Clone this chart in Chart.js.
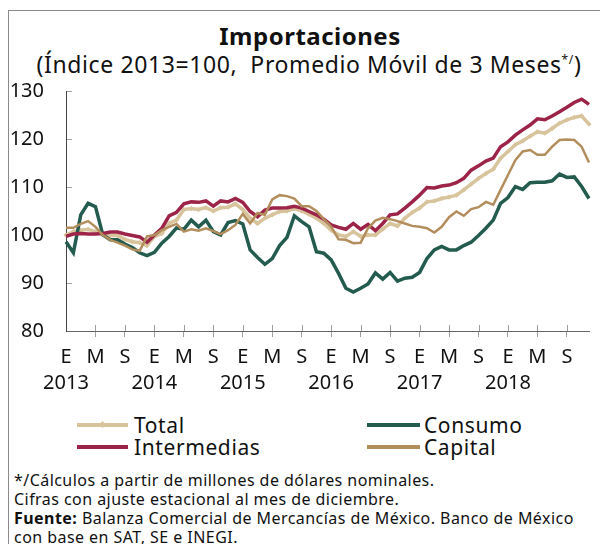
<!DOCTYPE html>
<html lang="es">
<head>
<meta charset="UTF-8">
<title>Importaciones</title>
<script src="https://cdn.jsdelivr.net/npm/chart.js"></script>
<style>
  body {
    margin: 0;
    width: 600px;
    height: 544px;
    background: #fff;
    font-family: "Noto Sans", sans-serif;
    color: #111;
    overflow: hidden;
    position: relative;
  }
  #frame {
    position: absolute;
    left: 8px;
    top: 10px;
    width: 600px;
    height: 540px;
    border-left: 1px solid #8a8a8a;
    border-top: 1px solid #8a8a8a;
  }
  #title {
    position: absolute;
    left: 0; width: 620px; top: 21px;
    text-align: center;
    font-weight: bold;
    font-size: 24px;
    letter-spacing: 0.5px;
    line-height: 30px;
  }
  #subtitle {
    position: absolute;
    left: 0; width: 618px; top: 49px;
    text-align: center;
    font-size: 23px;
    letter-spacing: 0.6px;
    line-height: 30px;
    white-space: nowrap;
  }
  #subtitle sup { font-size: 12px; vertical-align: 9px; line-height: 0; }
  #wrap {
    position: absolute;
    left: 0; top: 0;
    width: 600px; height: 400px;
  }
  .leg {
    position: absolute;
    font-size: 21px;
    letter-spacing: 0.6px;
    line-height: 24px;
    white-space: nowrap;
  }
  .swatch {
    position: absolute;
    height: 4px;
  }
  .diamond {
    position: absolute;
    width: 5px; height: 5px;
    transform: rotate(45deg);
  }
  #notes {
    position: absolute;
    left: 14px; top: 471px;
    font-size: 16px;
    letter-spacing: 0.45px;
    line-height: 19px;
    white-space: nowrap;
  }
</style>
</head>
<body>
<div id="frame"></div>
<div id="title">Importaciones</div>
<div id="subtitle">(Índice 2013=100,&nbsp; Promedio Móvil de 3 Meses<sup>*/</sup>)</div>
<div id="wrap"><canvas id="chart"></canvas></div>

<div class="swatch" style="left:77px;top:423px;width:51px;background:#d8c49c"></div>
<div class="diamond" style="left:100px;top:422px;background:#d8c49c"></div>
<div class="leg" style="left:134px;top:413px">Total</div>
<div class="swatch" style="left:77px;top:445px;width:51px;background:#9d2449"></div>
<div class="leg" style="left:134px;top:435px">Intermedias</div>
<div class="swatch" style="left:367px;top:423px;width:53px;background:#235b4e"></div>
<div class="leg" style="left:424px;top:413px">Consumo</div>
<div class="swatch" style="left:367px;top:445px;width:53px;background:#b38e5d"></div>
<div class="leg" style="left:424px;top:435px">Capital</div>

<div id="notes">
  */Cálculos a partir de millones de dólares nominales.<br>
  Cifras con ajuste estacional al mes de diciembre.<br>
  <b>Fuente:</b> Balanza Comercial de Mercancías de México. Banco de México<br>
  con base en SAT, SE e INEGI.
</div>

<script>
  // monthly, Jan 2013 - Dec 2018
  const years = ['2013', '2014', '2015', '2016', '2017', '2018'];
  const monthLetters = ['E', 'F', 'M', 'A', 'M', 'J', 'J', 'A', 'S', 'O', 'N', 'D'];

  const total = [
    100.0, 100.7, 101.0, 101.2, 100.7, 100.2, 99.9, 99.9, 99.1, 98.6, 98.4, 97.8,
    99.7, 100.3, 102.4, 103.1, 105.3, 105.5, 105.3, 105.7, 105.0, 105.7, 105.8, 106.5,
    105.3, 103.5, 102.4, 103.5, 104.2, 104.9, 105.0, 105.5, 105.0, 104.3, 103.5, 102.4,
    101.0, 100.0, 99.7, 100.7, 99.7, 100.0, 100.0, 101.2, 102.4, 101.9, 103.5, 104.7,
    105.6, 106.9, 107.1, 107.6, 107.9, 108.3, 109.4, 110.6, 111.8, 112.8, 113.7, 116.0,
    117.4, 118.8, 119.6, 120.6, 121.5, 121.2, 122.2, 123.3, 124.0, 124.5, 124.8, 123.1
  ];
  const consumo = [
    98.6, 96.3, 104.2, 106.6, 105.9, 100.0, 99.0, 99.0, 98.1, 97.4, 96.3, 95.7,
    96.4, 98.3, 99.7, 101.5, 101.2, 103.1, 101.7, 103.1, 100.7, 100.0, 102.6, 103.0,
    102.3, 96.9, 95.3, 93.9, 95.1, 97.8, 99.5, 104.0, 102.8, 101.7, 96.5, 96.2,
    94.8, 92.0, 88.9, 88.1, 88.9, 89.8, 92.1, 90.8, 92.2, 90.4, 91.0, 91.2,
    92.2, 95.1, 96.9, 97.6, 96.9, 96.9, 97.8, 98.5, 99.9, 101.4, 103.1, 106.6,
    107.8, 110.1, 109.5, 110.9, 111.0, 111.0, 111.3, 112.7, 112.0, 112.1, 110.1, 107.6
  ];
  const intermedias = [
    99.7, 100.2, 100.3, 100.2, 100.2, 100.3, 100.6, 100.6, 100.2, 99.9, 99.6, 98.5,
    100.0, 101.4, 104.0, 104.7, 106.5, 106.9, 106.8, 107.1, 106.0, 107.1, 106.9, 107.6,
    106.8, 104.9, 103.8, 105.2, 105.6, 105.6, 105.7, 106.0, 105.6, 104.9, 104.2, 103.3,
    102.1, 101.6, 101.2, 102.4, 101.2, 102.2, 100.9, 102.4, 104.2, 104.4, 105.6, 106.9,
    108.3, 109.9, 109.8, 110.2, 110.4, 110.9, 111.8, 113.5, 114.4, 115.4, 116.0, 118.4,
    119.4, 120.8, 121.9, 122.9, 124.2, 124.0, 124.8, 125.7, 126.6, 127.6, 128.3, 127.2
  ];
  const capital = [
    101.5, 101.5, 102.3, 102.9, 101.7, 100.0, 99.0, 98.4, 97.8, 97.0, 96.7, 99.7,
    100.0, 101.0, 101.7, 102.3, 100.7, 101.2, 100.9, 101.4, 100.8, 100.2, 101.0, 102.1,
    104.4, 102.4, 104.6, 104.2, 107.4, 108.3, 108.1, 107.6, 106.0, 106.0, 105.0, 103.3,
    101.7, 99.1, 99.0, 98.3, 98.4, 101.4, 103.0, 103.6, 103.3, 102.9, 102.4, 101.9,
    101.7, 101.4, 100.5, 101.7, 103.7, 104.9, 104.0, 105.4, 105.8, 106.9, 106.3, 109.4,
    112.5, 115.6, 117.4, 117.7, 116.7, 116.7, 118.4, 119.8, 119.9, 119.8, 118.4, 115.1
  ];

  // category labels: month letter + year, only every 4th month shown
  const labels = [];
  years.forEach(y => monthLetters.forEach((m, k) => labels.push(m + ' ' + y)));

  function tickLabel(i) {
    if (i % 4 !== 0) return '';
    const m = monthLetters[i % 12];
    if (i % 12 === 0) return [m, years[i / 12]];
    return m;
  }

  // upper half of the crossing tick marks on the x axis
  const crossTicks = {
    id: 'crossTicks',
    afterDraw(chart) {
      const sx = chart.scales.x;
      const ctx = chart.ctx;
      ctx.save();
      ctx.strokeStyle = '#a0a0a0';
      ctx.lineWidth = 1;
      for (let i = 4; i < labels.length; i += 4) {
        const px = Math.round(sx.getPixelForValue(i)) + 0.5;
        ctx.beginPath();
        ctx.moveTo(px, sx.top - 6);
        ctx.lineTo(px, sx.top);
        ctx.stroke();
      }
      ctx.restore();
    }
  };

  const font = { family: '"Noto Sans", sans-serif', size: 20, lineHeight: 1.3 };

  new Chart(document.getElementById('chart'), {
    type: 'line',
    data: {
      labels: labels,
      datasets: [
        {
          label: 'Total', data: total, order: 4,
          borderColor: '#d8c49c', backgroundColor: '#d8c49c',
          borderWidth: 3.5, pointStyle: 'rectRot', pointRadius: 2.6,
          pointBorderWidth: 0, tension: 0
        },
        {
          label: 'Consumo', data: consumo, order: 3,
          borderColor: '#235b4e', borderWidth: 3.5, pointRadius: 0, tension: 0
        },
        {
          label: 'Intermedias', data: intermedias, order: 2,
          borderColor: '#9d2449', borderWidth: 3.5, pointRadius: 0, tension: 0
        },
        {
          label: 'Capital', data: capital, order: 1,
          borderColor: '#b38e5d', borderWidth: 2.5, pointRadius: 0, tension: 0
        }
      ]
    },
    options: {
      responsive: true,
      maintainAspectRatio: false,
      animation: false,
      events: [],
      layout: { padding: { top: 91, right: 11, left: 0, bottom: 0 } },
      plugins: { legend: { display: false }, tooltip: { enabled: false } },
      scales: {
        x: {
          offset: false,
          border: { color: '#666', width: 1 },
          grid: {
            drawOnChartArea: false,
            tickLength: 6,
            tickColor: c => (c.index % 4 === 0 && c.index > 0) ? '#a0a0a0' : 'rgba(0,0,0,0)'
          },
          ticks: {
            autoSkip: false, maxRotation: 0, minRotation: 0,
            padding: 7, color: '#111', font: font,
            callback: (v, i) => tickLabel(i)
          },
          afterFit: s => { s.height = 69; }
        },
        y: {
          min: 80, max: 130,
          border: { color: '#444', width: 1 },
          grid: { drawOnChartArea: false, tickLength: -6, tickColor: '#a0a0a0' },
          ticks: { stepSize: 10, padding: 28, color: '#111', font: font },
          afterFit: s => { s.width = 66; }
        }
      }
    },
    plugins: [crossTicks]
  });
</script>
</body>
</html>
